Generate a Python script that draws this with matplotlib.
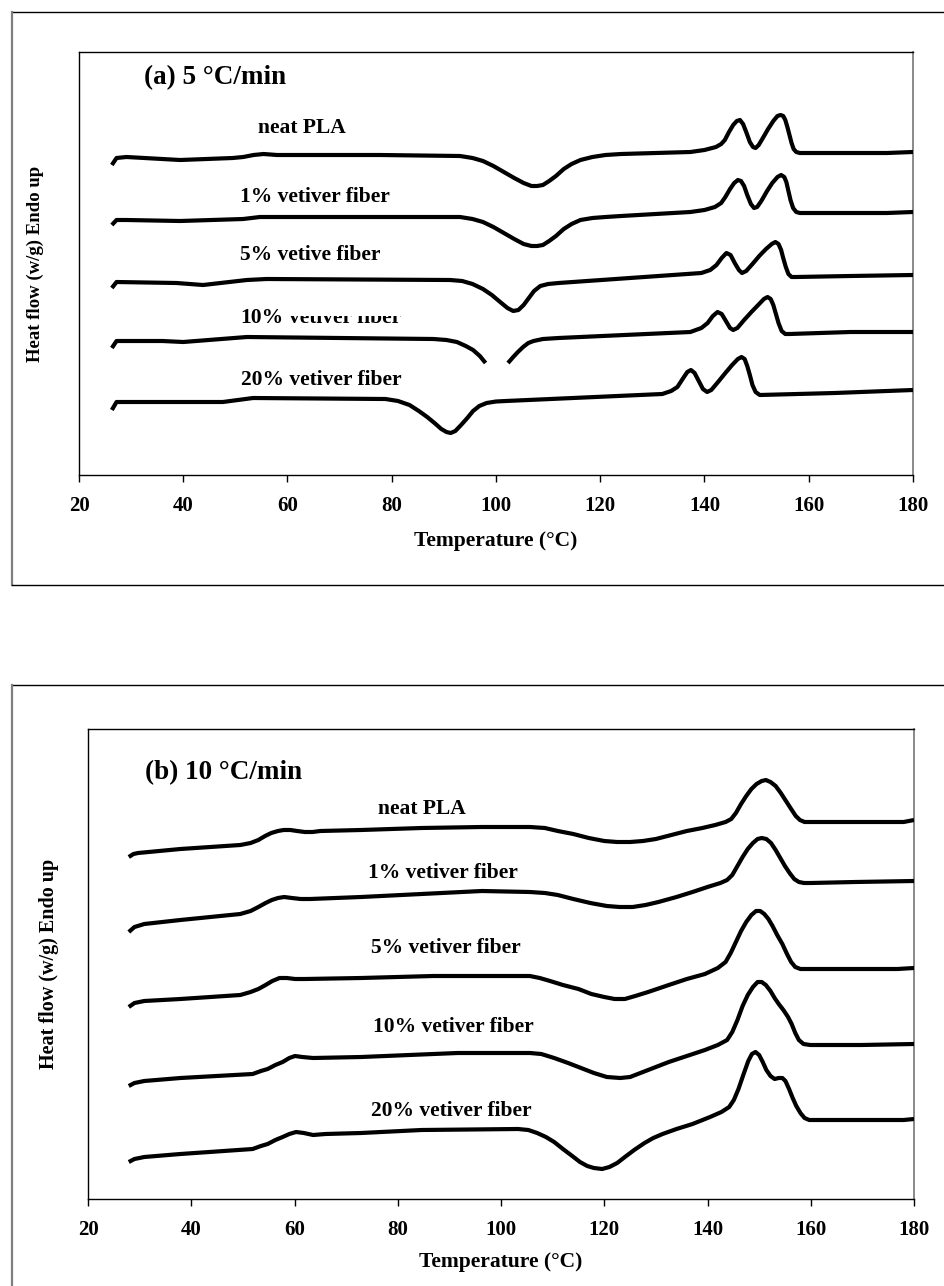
import numpy as np
import matplotlib
matplotlib.use("Agg")
import matplotlib.pyplot as plt
from matplotlib.lines import Line2D
from matplotlib.transforms import Bbox, TransformedBbox

plt.rcParams['font.family'] = ['Liberation Serif', 'DejaVu Serif']
plt.rcParams['font.weight'] = 'bold'

# ---- (a) 5 C/min : temperature (C) and heat flow (a.u., curves offset) ----
a_neat_T = [26.3, 27.2, 29.1, 39.4, 49.5, 51.5, 53.5, 55.4, 58, 61.1, 77.7, 93.1, 95.5, 97.5, 99.5, 101.5, 103.5,
            105.3, 106.8, 107.9, 109, 110.2, 111.5, 113, 114.5, 116.2, 118.5, 121, 124, 137.3, 140, 142.2,
            143.2, 143.9, 144.7, 145.5, 146.2, 146.8, 147.4, 148.0, 148.7, 149.3, 149.8, 150.4, 151.2, 152.2,
            153.2, 154.0, 154.6, 155.1, 155.5, 155.9, 156.3, 156.7, 157.1, 157.6, 158.3, 175, 180]
a_neat_h = [3.10, 3.17, 3.18, 3.15, 3.17, 3.18, 3.20, 3.21, 3.20, 3.20, 3.20, 3.19, 3.17, 3.14, 3.09, 3.03, 2.97,
            2.92, 2.89, 2.89, 2.90, 2.94, 2.99, 3.06, 3.11, 3.15, 3.18, 3.20, 3.21, 3.23, 3.25, 3.28,
            3.31, 3.35, 3.43, 3.50, 3.54, 3.55, 3.51, 3.43, 3.33, 3.28, 3.27, 3.30, 3.37, 3.46,
            3.54, 3.59, 3.60, 3.59, 3.55, 3.48, 3.40, 3.32, 3.26, 3.23, 3.22, 3.22, 3.23]

a_1_T = [26.3, 27.2, 29.1, 39.4, 51.5, 54.7, 61.1, 93.1, 95.5, 97.5, 99.5, 101.5, 103.5, 105.3, 106.8, 107.9,
         109, 110.2, 111.5, 113, 114.5, 116.2, 118.5, 121, 124, 137.3, 140, 142, 143.2, 144, 144.9, 145.7,
         146.4, 147.0, 147.6, 148.2, 148.9, 149.5, 150.1, 150.9, 152, 153, 154, 154.7, 155.3, 155.7, 156.1,
         156.5, 157.0, 157.6, 158.3, 175, 180]
a_1_h = [2.50, 2.55, 2.55, 2.54, 2.56, 2.58, 2.58, 2.58, 2.56, 2.53, 2.48, 2.42, 2.36, 2.31, 2.29, 2.29,
         2.30, 2.34, 2.39, 2.46, 2.51, 2.55, 2.57, 2.58, 2.59, 2.63, 2.65, 2.68, 2.72, 2.78, 2.86, 2.92,
         2.95, 2.94, 2.89, 2.80, 2.71, 2.67, 2.68, 2.74, 2.84, 2.92, 2.98, 3.00, 2.98, 2.93, 2.84,
         2.75, 2.67, 2.63, 2.62, 2.62, 2.63]

a_5_T = [26.3, 27.2, 38.7, 43.8, 52.2, 56, 91.2, 93.5, 95.5, 97.5, 99.2, 100.8, 102.2, 103.3, 104.3, 105.3,
         106.3, 107.3, 108.5, 110, 112, 139.4, 141.1, 142.3, 143.3, 144.2, 145.0, 145.8, 146.6, 147.2, 148,
         149.2, 150.5, 151.8, 152.9, 153.6, 154.2, 154.7, 155.1, 155.6, 156.1, 156.7, 157.5, 168, 180]
a_5_h = [1.87, 1.93, 1.92, 1.90, 1.95, 1.96, 1.95, 1.94, 1.91, 1.86, 1.80, 1.73, 1.67, 1.64, 1.65, 1.70,
         1.77, 1.84, 1.89, 1.91, 1.92, 2.02, 2.05, 2.10, 2.17, 2.22, 2.20, 2.12, 2.05, 2.02, 2.04,
         2.11, 2.19, 2.26, 2.31, 2.33, 2.31, 2.25, 2.17, 2.08, 2.01, 1.98, 1.98, 1.99, 2.00]

# the minimum of the 10 % curve is missing in the original figure
a_10_T = [26.3, 27.2, 36, 40, 52.2, 88, 90.5, 92.5, 94.2, 95.6, 96.9, 98.0, np.nan, 102.3, 103.3, 104.2, 105.2,
          106.2, 107.2, 109, 112, 137.3, 139.4, 140.6, 141.6, 142.5, 143.3, 144.1, 144.9, 145.5, 146.3, 147.6,
          149, 150.3, 151.4, 152.1, 152.7, 153.2, 153.7, 154.2, 154.8, 155.5, 156.3, 168, 180]
a_10_h = [1.27, 1.34, 1.34, 1.33, 1.38, 1.36, 1.35, 1.33, 1.29, 1.25, 1.19, 1.12, np.nan, 1.12, 1.18, 1.23, 1.28,
          1.32, 1.34, 1.36, 1.37, 1.43, 1.47, 1.52, 1.59, 1.63, 1.61, 1.54, 1.47, 1.45, 1.47, 1.55,
          1.63, 1.70, 1.76, 1.78, 1.76, 1.70, 1.61, 1.52, 1.44, 1.41, 1.41, 1.43, 1.43]

a_20_T = [26.3, 27.2, 47.6, 53.4, 78.8, 81.2, 83.4, 85.2, 86.8, 88.2, 89.5, 90.5, 91.3, 92.2, 93.3, 94.5, 95.6,
          96.8, 98.2, 100, 101.9, 131.9, 133.6, 134.8, 135.8, 136.7, 137.4, 138.1, 138.9, 139.7, 140.5, 141.3,
          142.6, 144, 145.3, 146.4, 147.1, 147.7, 148.2, 148.7, 149.2, 149.8, 150.6, 165, 180]
a_20_h = [0.65, 0.73, 0.73, 0.77, 0.76, 0.74, 0.70, 0.64, 0.58, 0.52, 0.46, 0.43, 0.42, 0.44, 0.50, 0.57, 0.64,
          0.69, 0.72, 0.735, 0.74, 0.81, 0.84, 0.88, 0.96, 1.03, 1.05, 1.02, 0.94, 0.86, 0.83, 0.85,
          0.93, 1.02, 1.10, 1.16, 1.18, 1.16, 1.09, 1.00, 0.90, 0.83, 0.80, 0.82, 0.85]

# ---- (b) 10 C/min ----
b_neat_T = [27.9, 28.8, 29.7, 37.9, 49.5, 51.5, 53, 54.3, 55.5, 56.8, 57.9, 59.2, 60.5, 62, 63.5, 65, 72.9,
            84.6, 96.3, 105.6, 108.5, 111, 114, 117, 120, 122.5, 125, 127.5, 130, 133, 136, 139, 141.5, 143.5,
            144.6, 145.5, 146.5, 147.5, 148.5, 149.5, 150.5, 151.3, 152.2, 153.2, 154.2, 155.2, 156.2, 157.1,
            157.9, 158.8, 160, 178, 180]
b_neat_h = [3.42, 3.45, 3.46, 3.50, 3.54, 3.56, 3.59, 3.63, 3.66, 3.68, 3.69, 3.69, 3.68, 3.67, 3.67, 3.68, 3.69,
            3.71, 3.72, 3.72, 3.71, 3.68, 3.65, 3.61, 3.58, 3.57, 3.57, 3.58, 3.60, 3.64, 3.68, 3.71, 3.74, 3.77,
            3.80, 3.86, 3.95, 4.03, 4.10, 4.15, 4.18, 4.19, 4.17, 4.13, 4.06, 3.98, 3.90, 3.83,
            3.79, 3.77, 3.77, 3.77, 3.79]

b_1_T = [27.9, 29.0, 30.9, 37.9, 49.5, 51.5, 53, 54.4, 55.6, 56.8, 58, 59.5, 61.2, 63, 72.9, 84.6, 96.3, 105.6,
         108.5, 111, 114, 117.3, 120.5, 123, 125.5, 128, 130.5, 134, 137.1, 140, 142.5, 143.8, 144.8, 145.8,
         146.8, 147.8, 148.8, 149.7, 150.5, 151.4, 152.3, 153.2, 154.1, 155, 155.9, 156.8, 157.7, 158.7, 160,
         168.6, 180]
b_1_h = [2.67, 2.72, 2.75, 2.79, 2.85, 2.88, 2.92, 2.96, 2.99, 3.01, 3.02, 3.01, 3.00, 3.00, 3.02, 3.05, 3.08, 3.07,
         3.06, 3.04, 3.00, 2.96, 2.93, 2.92, 2.92, 2.94, 2.97, 3.02, 3.07, 3.12, 3.16, 3.19, 3.24, 3.33,
         3.42, 3.50, 3.56, 3.60, 3.61, 3.60, 3.56, 3.49, 3.41, 3.33, 3.26, 3.20, 3.17, 3.16, 3.16,
         3.17, 3.18]

b_5_T = [27.9, 29.0, 30.9, 37.9, 49.5, 51.5, 53, 54.4, 55.7, 57.1, 58.5, 60.1, 62, 72.9, 86.9, 105.6, 107.5,
         109.5, 112, 115, 117.5, 120, 122, 124, 126, 128.5, 132.5, 136, 139.5, 142, 143.5, 144.5, 145.5, 146.5,
         147.5, 148.5, 149.4, 150.2, 151, 151.8, 152.6, 153.5, 154.5, 155.4, 156.2, 157, 158, 159.3, 176.8, 180]
b_5_h = [1.92, 1.96, 1.98, 2.00, 2.04, 2.07, 2.10, 2.14, 2.18, 2.21, 2.21, 2.20, 2.20, 2.21, 2.23, 2.23, 2.21,
         2.18, 2.14, 2.10, 2.05, 2.02, 2.00, 2.00, 2.03, 2.07, 2.14, 2.20, 2.25, 2.31, 2.37, 2.46, 2.57, 2.68,
         2.77, 2.84, 2.88, 2.88, 2.85, 2.80, 2.73, 2.64, 2.55, 2.45, 2.37, 2.32, 2.30, 2.30, 2.30, 2.31]

b_10_T = [27.9, 29.0, 30.9, 37.9, 51.9, 53.5, 54.8, 56.3, 57.7, 59, 60.1, 61.5, 63.6, 72.9, 91.6, 105.6, 107.8,
          110.3, 113, 115.5, 118, 120.5, 123.1, 125, 127, 129.5, 132.5, 136, 139.5, 142, 143.8, 144.8, 145.8,
          146.8, 147.8, 148.8, 149.7, 150.5, 151.3, 152.2, 153, 153.8, 154.7, 155.6, 156.3, 157, 157.7, 158.6,
          159.9, 169.8, 180]
b_10_h = [1.13, 1.16, 1.18, 1.21, 1.25, 1.28, 1.30, 1.34, 1.37, 1.41, 1.43, 1.42, 1.41, 1.42, 1.46, 1.46, 1.45,
          1.41, 1.36, 1.31, 1.26, 1.22, 1.21, 1.22, 1.26, 1.31, 1.37, 1.43, 1.49, 1.54, 1.59, 1.67, 1.79,
          1.93, 2.04, 2.12, 2.17, 2.17, 2.14, 2.08, 2.01, 1.95, 1.89, 1.82, 1.75, 1.66, 1.59, 1.55,
          1.54, 1.54, 1.55]

b_20_T = [27.9, 29.0, 30.9, 37.9, 51.9, 53.5, 54.8, 56.3, 57.7, 59, 60.3, 61.8, 63.6, 66, 72.9, 84.6, 103.3,
          105.3, 107, 108.7, 110.3, 112, 113.8, 115.3, 116.7, 118, 119.6, 121, 122.5, 124, 125.8, 127.8, 129.5,
          131.3, 134, 137.1, 140.5, 142.7, 144.2, 145.1, 146, 147, 147.9, 148.6, 149.3, 150, 150.7, 151.4,
          152.2, 153, 153.8, 154.5, 155.1, 155.8, 156.5, 157.2, 158, 158.8, 159.7, 161, 178, 180]
b_20_h = [0.37, 0.40, 0.42, 0.45, 0.50, 0.53, 0.55, 0.59, 0.62, 0.65, 0.67, 0.66, 0.64, 0.65, 0.66, 0.69, 0.70,
          0.69, 0.66, 0.62, 0.57, 0.50, 0.43, 0.37, 0.33, 0.31, 0.30, 0.32, 0.36, 0.42, 0.49, 0.56, 0.61,
          0.65, 0.70, 0.75, 0.82, 0.87, 0.92, 0.99, 1.10, 1.25, 1.38, 1.45, 1.47, 1.44, 1.37, 1.29,
          1.23, 1.20, 1.21, 1.21, 1.18, 1.10, 1.01, 0.93, 0.86, 0.81, 0.79, 0.79, 0.79, 0.80]

labels = ["neat PLA", "1% vetiver fiber", "5% vetive fiber", "10% vetiver fiber", "20% vetiver fiber"]
labels_b = ["neat PLA", "1% vetiver fiber", "5% vetiver fiber", "10% vetiver fiber", "20% vetiver fiber"]
# label anchor (T, h)
a_lab_T = [54.3, 50.9, 50.9, 51.0, 51.0]
a_lab_h = [3.47, 2.78, 2.20, 1.57, 0.95]
b_lab_T = [76.2, 74.2, 74.8, 75.2, 74.8]
b_lab_h = [3.90, 3.26, 2.51, 1.72, 0.88]

W, H = 944, 1286
fig = plt.figure(figsize=(W / 100, H / 100), dpi=100)


def fx(px):
    return px / W


def fy(py):
    return 1 - py / H


# outer frames around each panel
for (x0, y0, y1) in [(12, 12, 585), (12, 685, 1300)]:
    fig.add_artist(Line2D([fx(x0), 1.01], [fy(y0), fy(y0)], color='black', lw=1.0))
    fig.add_artist(Line2D([fx(x0), fx(x0)], [fy(y0), fy(y1)], color='#7f7f7f', lw=1.6))
    if y1 < H:
        fig.add_artist(Line2D([fx(x0), 1.01], [fy(y1), fy(y1)], color='black', lw=1.0))

ax1 = fig.add_axes([fx(79), fy(475), fx(913) - fx(79), fy(52) - fy(475)])
ax2 = fig.add_axes([fx(88), fy(1199), fx(914) - fx(88), fy(729) - fy(1199)])

curves_a = [(a_neat_T, a_neat_h), (a_1_T, a_1_h), (a_5_T, a_5_h), (a_10_T, a_10_h), (a_20_T, a_20_h)]
curves_b = [(b_neat_T, b_neat_h), (b_1_T, b_1_h), (b_5_T, b_5_h), (b_10_T, b_10_h), (b_20_T, b_20_h)]

for ax, curves, ytop, lpad in [(ax1, curves_a, 4.23, 11), (ax2, curves_b, 4.70, 9)]:
    for T, h in curves:
        ax.plot(T, h, color='black', lw=3.0, solid_joinstyle='round', solid_capstyle='butt', zorder=4)
    ax.set_xlim(20, 180)
    ax.set_ylim(0, ytop)
    ax.set_xticks(np.arange(20, 181, 20))
    ax.set_yticks([])
    ax.tick_params(axis='x', direction='out', length=5, width=1, labelsize=15, pad=10)
    for lab in ax.get_xticklabels():
        lab.set_fontweight('bold')
    for s in ['left', 'bottom', 'top']:
        ax.spines[s].set_color('black')
        ax.spines[s].set_linewidth(1.0)
    ax.spines['right'].set_color('#808080')
    ax.spines['right'].set_linewidth(1.3)
    ax.set_xlabel('Temperature (°C)', fontsize=15.5, fontweight='bold', labelpad=lpad)

ax1.set_ylabel('Heat flow (w/g) Endo up', fontsize=13.5, fontweight='bold')
ax2.set_ylabel('Heat flow (w/g) Endo up', fontsize=14.5, fontweight='bold')
ax1.yaxis.set_label_coords(-0.042, 0.5)
ax2.yaxis.set_label_coords(-0.035, 0.5)

ax1.text(32.5, 3.97, '(a) 5 °C/min', fontsize=19.5, fontweight='bold', va='center')
ax2.text(31.0, 4.26, '(b) 10 °C/min', fontsize=19.5, fontweight='bold', va='center')

fs = 15.5
for i, txt in enumerate(labels):
    if i == 3:
        # upper part of "vetiver fiber" is hidden in the original
        ax1.text(a_lab_T[i], a_lab_h[i], '10%', fontsize=fs, fontweight='bold', va='center')
        t = ax1.text(60.3, a_lab_h[i], 'vetiver fiber', fontsize=fs, fontweight='bold', va='center')
        t.set_clip_box(TransformedBbox(Bbox([[55, 0], [110, 1.59]]), ax1.transData))
        t.set_clip_on(True)
    else:
        ax1.text(a_lab_T[i], a_lab_h[i], txt, fontsize=fs, fontweight='bold', va='center')

for i, txt in enumerate(labels_b):
    ax2.text(b_lab_T[i], b_lab_h[i], txt, fontsize=fs, fontweight='bold', va='center')

fig.savefig('out.png', dpi=100)
